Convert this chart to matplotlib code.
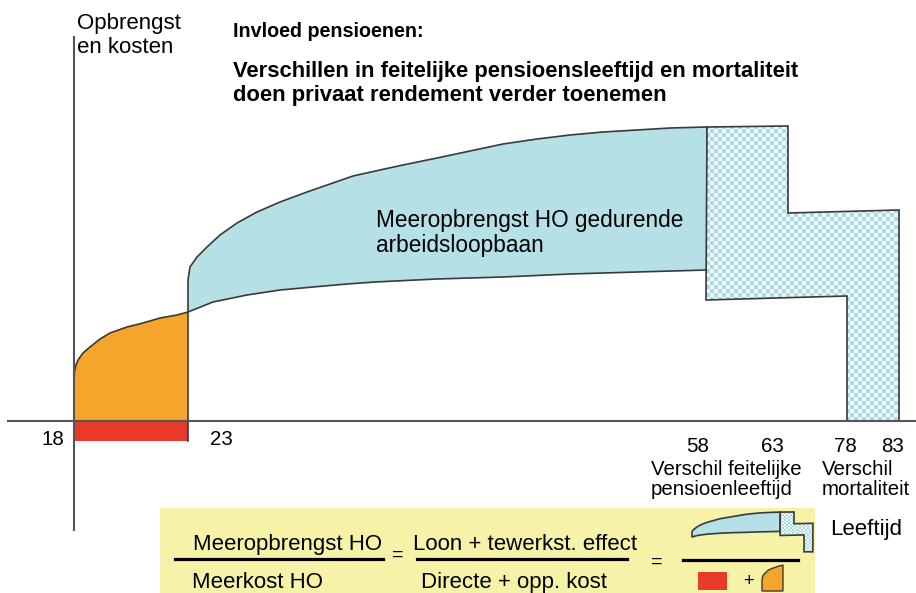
import numpy as np
import matplotlib.pyplot as plt
from matplotlib.patches import Polygon, Rectangle
from matplotlib.colors import ListedColormap
from matplotlib.transforms import Affine2D

plt.rcParams['font.family'] = ['Liberation Sans', 'DejaVu Sans']

# ages on the schematic axis and where they sit
ages = ['18', '23', '58', '63', '78', '83']
age_x = [74, 188, 707, 788, 847, 898]

# cost curve (orange), age 18-23
cost_x = [74, 74, 74.5, 76, 78, 83, 90, 100, 110, 127, 143, 160, 177, 188]
cost_h = [0, 42, 50, 56, 61, 68, 74, 82, 88, 94, 98, 103, 106, 109]

# earnings without degree (lower) and with degree (upper)
low_x = [188, 213, 247, 280, 313, 347, 375, 437, 503, 570, 637, 707]
low_h = [109, 119, 126, 131, 134, 137, 139, 142, 144, 147, 149, 151]
up_x = [188, 188, 190, 197, 207, 220, 237, 257, 280, 307, 330, 353, 380,
        403, 437, 470, 503, 537, 570, 603, 637, 670, 707]
up_h = [109, 141, 154, 164, 174, 186, 198, 209, 219, 229, 237, 245, 251,
        256, 263, 270, 277, 282, 286, 289, 291, 293, 294]

# pension / mortality block
pen_x = [707, 788, 788, 899, 899, 847, 847, 706]
pen_h = [294, 295, 208, 211, 0, 0, 125, 121]

direct_cost = 20

blue = '#b5e0e6'
orange = '#f5a42c'
red = '#e83a2a'
edge = '#3a3a3a'
checker_cmap = ListedColormap(['#f2fafb', '#a9dbe3'])

fig = plt.figure(figsize=(9.16, 5.93), dpi=100)
ax = fig.add_axes([0, 0, 1, 1])
ax.set_xlim(0, 916)
ax.set_ylim(-172, 421)
ax.axis('off')


def draw_shapes(tr, cell, z):
    t = tr + ax.transData
    blue_poly = list(zip(up_x, up_h)) + list(zip(low_x[::-1], low_h[::-1]))
    ax.add_patch(Polygon(blue_poly, closed=True, fc=blue, ec=edge, lw=1.2,
                         transform=t, zorder=z))
    pen = Polygon(list(zip(pen_x, pen_h)), closed=True, fc='none', ec=edge,
                  lw=1.2, transform=t, zorder=z + 1)
    ax.add_patch(pen)
    x0, x1 = min(pen_x), max(pen_x)
    y0, y1 = min(pen_h), max(pen_h)
    nx = int(np.ceil((x1 - x0) / cell))
    ny = int(np.ceil((y1 - y0) / cell))
    board = np.indices((ny, nx)).sum(axis=0) % 2
    im = ax.imshow(board, cmap=checker_cmap, interpolation='nearest',
                   extent=(x0, x0 + nx * cell, y0, y0 + ny * cell),
                   origin='lower', transform=t, zorder=z, aspect='auto')
    im.set_clip_path(pen)


# main chart
draw_shapes(Affine2D(), 4, 2)

orange_poly = list(zip(cost_x, cost_h)) + [(cost_x[-1], 0)]
ax.add_patch(Polygon(orange_poly, closed=True, fc=orange, ec='none', zorder=2))
ax.plot(cost_x[1:], cost_h[1:], color=edge, lw=1.2, zorder=3)
ax.add_patch(Rectangle((age_x[0], -direct_cost), age_x[1] - age_x[0], direct_cost,
                       fc=red, ec='none', zorder=2))
ax.plot([age_x[1], age_x[1]], [-direct_cost, cost_h[-1]], color=edge, lw=1.2, zorder=3)

# axes
ax.plot([8, 916], [0, 0], color='#555555', lw=1.5, zorder=4)
ax.plot([age_x[0], age_x[0]], [-109, 384], color='#555555', lw=1.5, zorder=4)

# age labels
ax.text(53, -24, ages[0], fontsize=14.8, ha='center', va='baseline')
ax.text(221, -24, ages[1], fontsize=14.8, ha='center', va='baseline')
for lab, x in zip(ages[2:], [698, 772, 845, 893]):
    ax.text(x, -31, lab, fontsize=14.8, ha='center', va='baseline')
ax.text(726, -54, 'Verschil feitelijke', fontsize=14.7, ha='center', va='baseline')
ax.text(722, -74, 'pensioenleeftijd', fontsize=14.7, ha='center', va='baseline')
ax.text(822, -54, 'Verschil', fontsize=14.7, ha='left', va='baseline')
ax.text(822, -74, 'mortaliteit', fontsize=14.7, ha='left', va='baseline')

# texts
ax.text(77, 392, 'Opbrengst', fontsize=16, ha='left', va='baseline')
ax.text(77, 368, 'en kosten', fontsize=16, ha='left', va='baseline')
ax.text(233, 384, 'Invloed pensioenen:', fontsize=14.2, fontweight='bold',
        ha='left', va='baseline')
ax.text(233, 344, 'Verschillen in feitelijke pensioensleeftijd en mortaliteit',
        fontsize=15.8, fontweight='bold', ha='left', va='baseline')
ax.text(233, 320, 'doen privaat rendement verder toenemen',
        fontsize=15.8, fontweight='bold', ha='left', va='baseline')
ax.text(376, 194, 'Meeropbrengst HO gedurende', fontsize=16.3, ha='left', va='baseline')
ax.text(376, 169, 'arbeidsloopbaan', fontsize=16.3, ha='left', va='baseline')

# formula box
ax.add_patch(Rectangle((160, -175), 655, 88, fc='#f6f2a8', ec='none', zorder=1))
ax.text(288, -129, 'Meeropbrengst HO', fontsize=16, ha='center', va='baseline', zorder=5)
ax.text(192, -167, 'Meerkost HO', fontsize=16, ha='left', va='baseline', zorder=5)
ax.plot([175, 383], [-138, -138], color='black', lw=2.3, zorder=5)
ax.text(398, -134, '=', fontsize=14, ha='center', va='center', zorder=5)
ax.text(413, -129, 'Loon + tewerkst. effect', fontsize=16, ha='left', va='baseline', zorder=5)
ax.text(421, -167, 'Directe + opp. kost', fontsize=16, ha='left', va='baseline', zorder=5)
ax.plot([417, 627], [-138, -138], color='black', lw=2.3, zorder=5)
ax.text(657, -141, '=', fontsize=14, ha='center', va='center', zorder=5)
ax.plot([683, 798], [-139, -139], color='black', lw=2.3, zorder=5)
ax.text(830, -114, 'Leeftijd', fontsize=16, ha='left', va='baseline')

# mini shapes in the formula
draw_shapes(Affine2D().scale(0.17, 0.135).translate(692 - 188 * 0.17, -130.8), 12, 5)
ax.add_patch(Rectangle((698, -169), 29, 18, fc=red, ec='none', zorder=5))
ax.text(748, -161, '+', fontsize=13, ha='center', va='center', zorder=5)
mini_o = Affine2D().scale(0.184, 0.239).translate(762 - 74 * 0.184, -170)
ax.add_patch(Polygon(orange_poly, closed=True, fc=orange, ec=edge, lw=1.0,
                     transform=mini_o + ax.transData, zorder=5))

fig.savefig('out.png', dpi=100)
